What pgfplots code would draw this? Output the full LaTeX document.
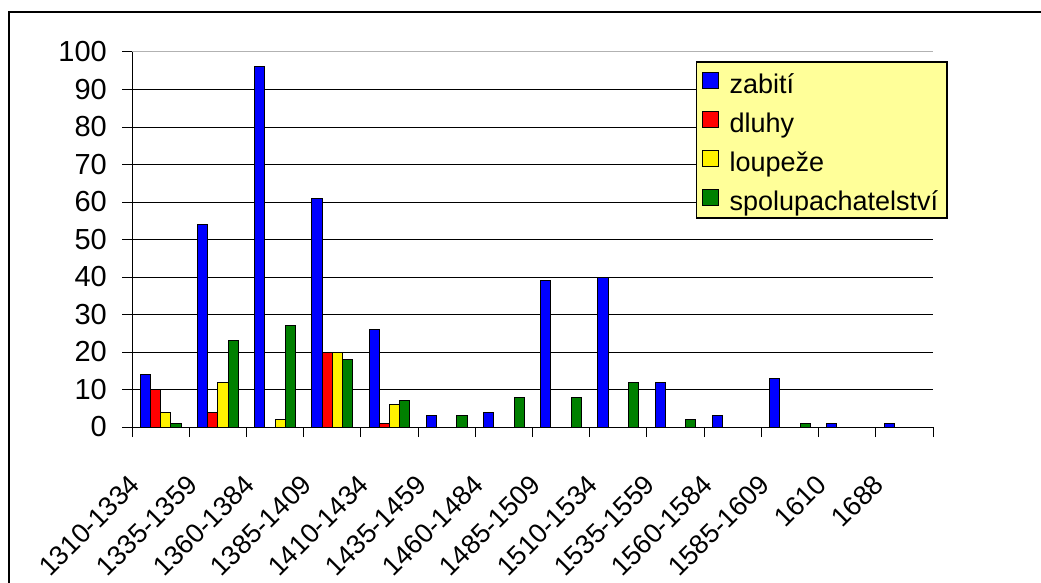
\documentclass[border=0pt]{standalone}
\usepackage{fontspec}
\setmainfont{Liberation Sans}
\usepackage{pgfplots}
\pgfplotsset{compat=1.18}
\definecolor{legyellow}{RGB}{255,255,153}
\definecolor{xgreen}{RGB}{0,128,0}
\begin{document}
\begin{tikzpicture}
\useasboundingbox (0pt,0pt) rectangle (1041pt,582pt);
\draw[line width=2pt] (9pt,-5pt) -- (9pt,570pt) -- (1050pt,570pt);
\begin{axis}[
  at={(132pt,155pt)}, anchor=south west,
  scale only axis, width=801pt, height=375pt,
  xmin=-0.5, xmax=13.5, ymin=0, ymax=100,
  axis lines*=left, axis line style={line width=1pt, black},
  ybar, bar width=10.2pt,
  xtick={0,...,13},
  xticklabels={1310-1334,1335-1359,1360-1384,1385-1409,1410-1434,1435-1459,1460-1484,1485-1509,1510-1534,1535-1559,1560-1584,1585-1609,1610,1688},
  minor xtick={-0.5,0.5,...,13.5},
  ytick={0,10,...,90},
  extra y ticks={100},
  extra y tick style={grid style={black!30, line width=1pt}},
  tick align=outside, major tick length=10pt, minor tick length=10pt,
  tick style={black, line width=1pt},
  minor x tick style={black, line width=1pt},
  major x tick style={draw=none},
  ymajorgrids, grid style={black, line width=1pt},
  /pgf/number format/assume math mode=true,
  yticklabel style={font=\fontsize{29}{34}\selectfont, inner sep=0pt, anchor=east, xshift=-15pt},
  xticklabel style={font=\fontsize{27}{32}\selectfont, inner sep=0pt, anchor=east, xshift=-25.4pt, yshift=-42.8pt, rotate=45},
  legend style={at={(1.0187,0.976)}, anchor=north east, draw=black, line width=1.5pt,
    fill=legyellow, inner xsep=5pt, inner ysep=0pt, font=\fontsize{27}{32}\selectfont,
    row sep=0pt, column sep=7pt,
    nodes={inner xsep=4pt, inner ysep=0pt, text height=32pt, text depth=7pt}},
  legend cell align=left,
  legend image code/.code={\draw[#1] (0pt,-7pt) rectangle (16pt,9pt);},
  clip=false,
]
\addplot[fill=blue, draw=black, line width=1pt, bar shift=-15.3pt] coordinates {
 (0,14)(1,54)(2,96)(3,61)(4,26)(5,3)(6,4)(7,39)(8,40)(9,12)(10,3)(11,13)(12,1)(13,1)};
\addplot[fill=red, draw=black, line width=1pt, bar shift=-5.1pt] coordinates {
 (0,10)(1,4)(3,20)(4,1)};
\addplot[fill=yellow, draw=black, line width=1pt, bar shift=5.1pt] coordinates {
 (0,4)(1,12)(2,2)(3,20)(4,6)};
\addplot[fill=xgreen, draw=black, line width=1pt, bar shift=15.3pt] coordinates {
 (0,1)(1,23)(2,27)(3,18)(4,7)(5,3)(6,8)(7,8)(8,12)(9,2)(11,1)};
\legend{zabití, dluhy, loupeže, spolupachatelství}
\end{axis}
\end{tikzpicture}
\end{document}
